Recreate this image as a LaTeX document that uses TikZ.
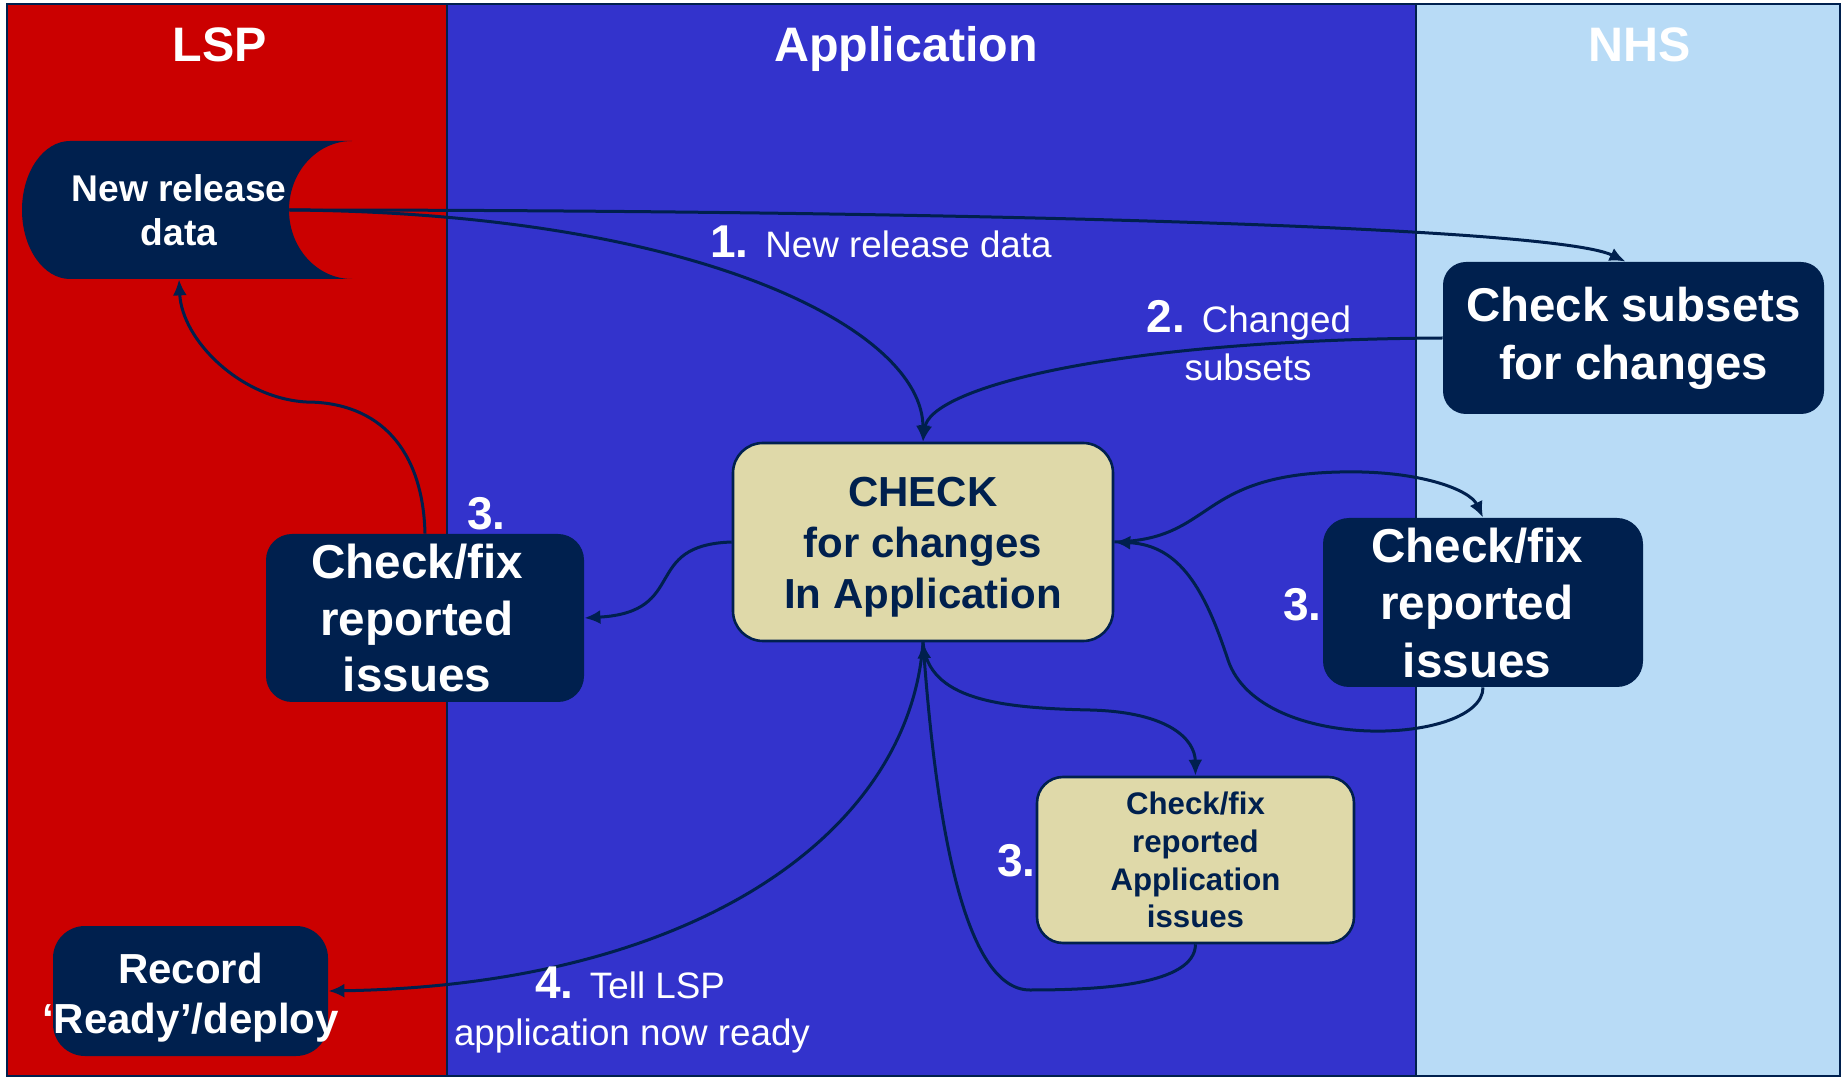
\documentclass[tikz,border=0pt]{standalone}
\usepackage{fontspec}
\setmainfont{Liberation Sans}
\usetikzlibrary{arrows.meta}
\definecolor{navy}{HTML}{00204E}
\definecolor{lspred}{HTML}{CB0000}
\definecolor{appblue}{HTML}{3333CC}
\definecolor{nhsblue}{HTML}{B8DBF6}
\definecolor{beige}{HTML}{DFD9A9}
\tikzset{
  laneline/.style={draw=navy, line width=1pt},
  header/.style={text=white, font=\fontsize{24.2}{29}\selectfont\bfseries, anchor=base, inner sep=0pt},
  darkbox/.style={rectangle, fill=navy, text=white, align=center, inner sep=0pt},
  lightbox/.style={rectangle, fill=beige, draw=navy, line width=1.3pt, text=navy, align=center, inner sep=0pt},
  conn/.style={draw=navy, line width=1.5pt, -{Latex[length=8pt,width=7pt]}},
  lbl/.style={text=white, font=\fontsize{18.4}{22}\selectfont, inner sep=0pt},
  num/.style={text=white, font=\fontsize{23}{28}\selectfont\bfseries, inner sep=0pt, anchor=base west}
}
\begin{document}
\begin{tikzpicture}[x=0.5pt,y=-0.5pt]
\useasboundingbox (0,0) rectangle (1843,1079);
\fill[white] (0,0) rectangle (1843,1079);
% lanes
\fill[lspred] (7,4) rectangle (447,1076);
\fill[appblue] (447,4) rectangle (1416,1076);
\fill[nhsblue] (1416,4) rectangle (1840,1076);
\draw[laneline] (447,4) -- (447,1076);
\draw[laneline] (1416,4) -- (1416,1076);
\draw[laneline] (7,4) rectangle (1840,1076);
% headers
\node[header] (hlsp) at (220,62) {LSP};
\node[header] (happ) at (906,62) {Application};
\node[header] (hnhs) at (1640,62) {NHS};

% New release data (stored data shape)
\fill[navy] (352,141) -- (70,141)
  .. controls (43.5,141) and (22,171.9) .. (22,210)
  .. controls (22,248.1) and (43.5,279) .. (70,279)
  -- (352,279)
  .. controls (317.2,279) and (289,248.1) .. (289,210)
  .. controls (289,171.9) and (317.2,141) .. (352,141) -- cycle;
\node[inner sep=0pt, minimum width=110pt, minimum height=69pt, text=white, align=center,
      font=\fontsize{18.6}{22}\selectfont\bfseries] (nrd) at (179,210) {New release\\data};

% boxes
\node[darkbox, rounded corners=11.5pt, minimum width=190.5pt, minimum height=76pt,
      font=\fontsize{23.7}{29}\selectfont\bfseries] (subsets) at (1633.5,338) {Check subsets\\for changes};
\node[lightbox, rounded corners=15pt, minimum width=190pt, minimum height=99pt,
      font=\fontsize{21}{25.6}\selectfont\bfseries] (check) at (923,542) {\rule{0pt}{20pt}CHECK\\for changes\\In Application};
\node[darkbox, rounded corners=13pt, minimum width=159pt, minimum height=84pt,
      font=\fontsize{23.8}{28.25}\selectfont\bfseries] (cfl) at (425,618) {\makebox[0pt]{\hspace*{-8pt}Check/fix}\\\makebox[0pt]{\hspace*{-8pt}reported}\\\makebox[0pt]{\hspace*{-8pt}issues}};
\node[darkbox, rounded corners=13pt, minimum width=160pt, minimum height=84.5pt,
      font=\fontsize{23.8}{28.75}\selectfont\bfseries] (cfr) at (1483,602.5) {\makebox[0pt]{\hspace*{-6pt}Check/fix}\\\makebox[0pt]{\hspace*{-6pt}reported}\\\makebox[0pt]{\hspace*{-6pt}issues}};
\node[lightbox, rounded corners=13pt, minimum width=158.5pt, minimum height=83pt,
      font=\fontsize{15.6}{18.85}\selectfont\bfseries] (cfa) at (1195.5,860) {Check/fix\\reported\\Application\\issues};
\node[darkbox, rounded corners=16pt, minimum width=137.5pt, minimum height=65pt,
      font=\fontsize{21}{25}\selectfont\bfseries] (rec) at (190.5,991) {\makebox[0pt]{\rule{0pt}{22pt}Record}\\\makebox[0pt]{`Ready'/deploy}};

% connectors
\draw[conn] (nrd.east) .. controls (700,213) and (923,330) .. (check.north);
\draw[conn] (nrd.east) .. controls (900,210) and (1550,225) .. ([xshift=-4pt]subsets.north);
\draw[conn] (subsets.west) .. controls (1100,340) and (930,390) .. (check.north);
\draw[conn] (check.west) .. controls (640,545) and (690,612) .. (cfl.east);
\draw[conn] (cfl.north) .. controls (423,450) and (380,402) .. (306,402)
                        .. controls (240,398) and (182,340) .. (nrd.south);
\draw[conn] (check.east) .. controls (1215,540) and (1195,475) .. (1340,472)
                         .. controls (1420,470) and (1470,490) .. (cfr.north);
\draw[conn] (cfr.south) .. controls (1483,745) and (1260,755) .. (1228,660)
                        .. controls (1205,590) and (1180,545) .. (check.east);
\draw[conn] (check.south) .. controls (928,700) and (1000,708) .. (1090,710)
                          .. controls (1170,712) and (1195,740) .. (cfa.north);
\draw[conn] (cfa.south) .. controls (1195,985) and (1100,990) .. (1030,990)
                        .. controls (960,990) and (935,800) .. (check.south);
\draw[conn] (check.south) .. controls (910,830) and (700,985) .. (rec.east);

% labels
\node[lbl, anchor=base west] (l1) at (710,258) {{\fontsize{23}{28}\selectfont\bfseries 1.}\hspace{0.45em}New release data};
\node[lbl, anchor=base] (l2a) at (1249,333) {{\fontsize{23}{28}\selectfont\bfseries 2.}\hspace{0.45em}Changed};
\node[lbl, anchor=base] (l2b) at (1248,381) {subsets};
\node[lbl, anchor=base] (l4a) at (630,998) {{\fontsize{23}{28}\selectfont\bfseries 4.}\hspace{0.45em}Tell LSP};
\node[lbl, anchor=base] (l4b) at (632,1045) {application now ready};
\node[num] (n3l) at (467,530) {3.};
\node[num] (n3r) at (1283,621) {3.};
\node[num] (n3a) at (997,877) {3.};
\end{tikzpicture}
\end{document}
